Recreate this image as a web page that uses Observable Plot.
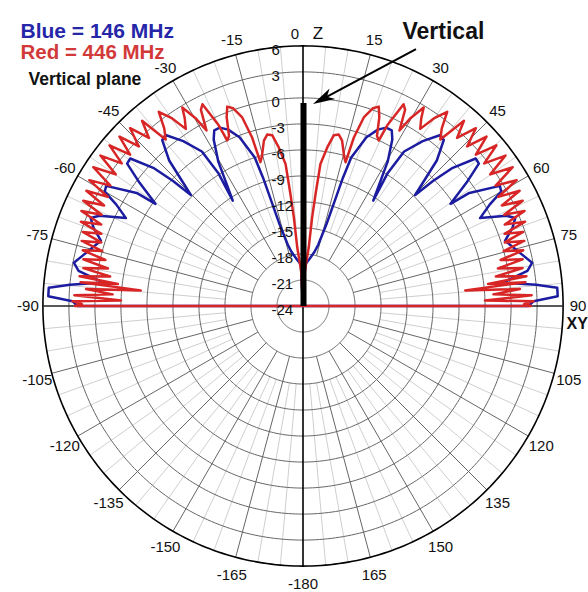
<!DOCTYPE html>
<html><head><meta charset="utf-8">
<script src="https://cdn.jsdelivr.net/npm/d3@7"></script>
<script src="https://cdn.jsdelivr.net/npm/@observablehq/plot@0.6"></script>
<style>body{margin:0;background:#fff}#chart svg{display:block}</style>
</head><body><div id="chart"></div>
<script>
// ---- data (right half, 0..90 deg from zenith; the pattern is mirrored to the left) ----
const blueAngles = [0,3,8,12,14,16,16.8,17.3,18,20.6,23,25,26.8,28.2,30.4,33.7,32.5,33.2,36.0,38.8,40.3,42.6,45.3,46.1,47.3,49.5,51.0,53.0,55.3,55.8,58.6,60.0,61.5,63.6,66.1,67.5,69.5,72.1,77.2,79.3,81.1,83.3,84.8,85.9,87.8,88.8,90,90];
const blueDb = [-24,-19.2,-18.5,-17.6,-16.7,-14.2,-11.3,-8.5,-6.0,-3.2,-1.9,-1.3,-1.3,-2.2,-4.7,-9.4,-5.8,-2.7,-0.5,1.3,1.1,-1.2,-5.8,-3.2,-0.5,2.2,2.1,-0.4,-3.3,-0.8,2.6,2.4,0.5,-1.2,1.7,2.5,1.8,0.5,2.1,2.9,2.2,-0.8,3.0,5.4,5.4,2.6,2.0,-24];
const redAngles = [0,3,5.6,5.9,6.4,7.0,8.7,10.2,11.8,13.3,15.5,16.5,16.8,17.9,19.5,20.8,22.0,23.5,24.6,25.0,26.5,27.5,28.8,29.8,31.3,32.2,33.5,35.0,36.6,38.0,39.5,41.0,42.5,44.2,45.8,47.3,48.8,50.3,51.8,53.4,54.9,56.5,58.0,59.5,60.8,62.0,63.2,64.4,65.6,66.8,68.0,69.2,70.3,71.4,72.5,73.6,74.7,75.8,76.9,78.0,79.1,80.2,81.3,82.4,83.2,83.9,84.5,85.5,86.5,87.3,88.3,88.8,89.5,90,90];
const redDb = [-24,-20,-17.2,-13.7,-11.0,-7.5,-5.5,-4.0,-3.8,-4.4,-6.2,-6.7,-3.7,-1.1,0.2,0.6,-0.5,-2.6,-3.0,-1.0,2.0,1.5,-0.9,1.0,2.8,1.6,0.5,2.5,3.9,2.0,0.9,4.3,2.3,4.6,2.4,4.8,2.5,5.0,2.6,5.1,2.4,5.0,2.2,4.6,1.8,4.3,1.7,4.1,1.5,3.8,1.1,3.4,0.7,2.8,0.4,2.6,0.0,2.2,-0.6,1.9,-1.1,1.7,-1.5,2.0,-2.5,1.8,-5.2,1.1,-2.0,2.4,-3.0,2.6,1.5,2.3,-24];

const ringDb = [-21,-18,-15,-12,-9,-6,-3,0,3];
const outerDb = 6;
const dbTickValues = [6,3,0,-3,-6,-9,-12,-15,-18,-21,-24];
const dbTickLabels = ["6","3","0","-3","-6","-9","-12","-15","-18","-21","-24"];
const angleTickValues = [15,30,45,60,75,90,105,120,135,150,165,180,-165,-150,-135,-120,-105,-90,-75,-60,-45,-30,-15];
const angleTickLabels = ["15","30","45","60","75","90","105","120","135","150","165","-180","-165","-150","-135","-120","-105","-90","-75","-60","-45","-30","-15"];
const zeroLabel = ["0"];
const zLabel = ["Z"];
const xyLabel = ["XY"];
const barDb = [-24, -0.6];
const titleBlue = ["Blue = 146 MHz"];
const titleRed = ["Red = 446 MHz"];
const titlePlane = ["Vertical plane"];
const arrowLabel = ["Vertical"];

// ---- geometry ----
const W = 588, H = 592, PX = 8.67, CX = 302.5, CY = 305.5, DBMIN = -24;
const rad = a => a * Math.PI / 180;
const P = (a, db) => { const r = Math.max(0, db - DBMIN); return [r * Math.sin(rad(a)), r * Math.cos(rad(a))]; };

function fullPattern(angles, dbs) {
  const right = angles.map((a, i) => ({a, db: dbs[i]}));
  const left = right.map(p => ({a: -p.a, db: p.db})).reverse();
  return [...left, ...right].map(p => { const [x, y] = P(p.a, p.db); return {x, y}; });
}
const blueRows = fullPattern(blueAngles, blueDb);
const redRows = fullPattern(redAngles, redDb);

const ringRows = ringDb.flatMap(db => d3.range(0, 361, 1).map(a => { const [x, y] = P(a, db); return {ring: db, x, y}; }));
const outerRows = d3.range(0, 361, 1).map(a => { const [x, y] = P(a, outerDb); return {x, y}; });
const spoke = (a, from) => { const [x1, y1] = P(a, from); const [x2, y2] = P(a, outerDb); return {x1, y1, x2, y2}; };
const darkSpokes = d3.range(-180, 180, 15).filter(a => a % 90 !== 0).map(a => spoke(a, -18));
const lightSpokes = d3.range(-180, 180, 5).filter(a => a % 15 !== 0).map(a => spoke(a, -15));
const axisRows = [
  {x1: P(0, outerDb)[0], y1: P(0, outerDb)[1], x2: P(180, outerDb)[0], y2: P(180, outerDb)[1], c: "#000"},
  {x1: P(-90, outerDb)[0], y1: P(-90, outerDb)[1], x2: P(90, outerDb)[0], y2: P(90, outerDb)[1], c: "#222"}
];
const barRows = [{x1: P(0, barDb[0])[0], y1: P(0, barDb[0])[1], x2: P(0, barDb[1])[0], y2: P(0, barDb[1])[1]}];

const labelR = outerDb + 15 / PX;
const angleRows = angleTickValues.map((a, i) => { const [x, y] = P(a, labelR); return {x, y, t: angleTickLabels[i], up: Math.cos(rad(a)) > -0.1}; });
const dbRows = dbTickValues.map((v, i) => ({x: 0, y: v - DBMIN, t: dbTickLabels[i]}));

// arrow annotation: tip just right of the bar top, tail near the label (pixel offsets)
const tipPx = [10, 1], tailPx = [113, -54];
const barTop = P(0, barDb[1]);
const tip = {x: barTop[0] + tipPx[0] / PX, y: barTop[1] - tipPx[1] / PX};
const tail = {x: barTop[0] + tailPx[0] / PX, y: barTop[1] - tailPx[1] / PX};
const dirX = tipPx[0] - tailPx[0], dirY = tipPx[1] - tailPx[1];
const dirLen = Math.hypot(dirX, dirY);
const arrowRot = Math.atan2(dirX, -dirY) * 180 / Math.PI;
const headLen = 22;
const back = {x: tip.x - (dirX / dirLen) * (headLen * 0.7) / PX, y: tip.y + (dirY / dirLen) * (headLen * 0.7) / PX};
const arrowHead = {draw(ctx) { ctx.moveTo(0, 0); ctx.lineTo(-6, headLen); ctx.lineTo(0, headLen * 0.72); ctx.lineTo(6, headLen); ctx.closePath(); }};

const FONT = "Liberation Sans, Arial, Helvetica, sans-serif";
const plot = Plot.plot({
  width: W, height: H, margin: 0,
  x: {domain: [-CX / PX, (W - CX) / PX], range: [0, W], axis: null},
  y: {domain: [-(H - CY) / PX, CY / PX], range: [H, 0], axis: null},
  style: {fontFamily: FONT, background: "#fff"},
  marks: [
    Plot.link(lightSpokes, {x1: "x1", y1: "y1", x2: "x2", y2: "y2", stroke: "#cfcfcf", strokeWidth: 1}),
    Plot.link(darkSpokes, {x1: "x1", y1: "y1", x2: "x2", y2: "y2", stroke: "#666", strokeWidth: 1}),
    Plot.line(ringRows, {x: "x", y: "y", z: "ring", stroke: "#666", strokeWidth: 1}),
    Plot.line(outerRows, {x: "x", y: "y", stroke: "#000", strokeWidth: 1.6}),
    Plot.link(axisRows, {x1: "x1", y1: "y1", x2: "x2", y2: "y2", stroke: "c", strokeWidth: 1.6}),
    Plot.line(blueRows, {x: "x", y: "y", stroke: "#1c1ca0", strokeWidth: 2.5, strokeLinejoin: "round"}),
    Plot.line(redRows, {x: "x", y: "y", stroke: "#d82626", strokeWidth: 2.5, strokeLinejoin: "round"}),
    Plot.link(barRows, {x1: "x1", y1: "y1", x2: "x2", y2: "y2", stroke: "#000", strokeWidth: 6, dx: 0.5}),
    Plot.text(angleRows.filter(d => d.up), {x: "x", y: "y", text: "t", fontSize: 15, fill: "#111", dy: 0}),
    Plot.text(angleRows.filter(d => !d.up), {x: "x", y: "y", text: "t", fontSize: 15, fill: "#111", dy: 3}),
    Plot.text(zeroLabel, {x: () => P(0, labelR)[0], y: () => P(0, labelR)[1], text: d => d, fontSize: 15, fill: "#111", dx: -8, dy: 3}),
    Plot.text(zLabel, {x: () => P(0, labelR)[0], y: () => P(0, labelR)[1], text: d => d, fontSize: 17, fill: "#111", dx: 15, dy: 3}),
    Plot.text(xyLabel, {x: () => P(90, labelR)[0], y: () => P(90, labelR)[1], text: d => d, fontSize: 16, fontWeight: "bold", fill: "#111", textAnchor: "start", dx: -11.5, dy: 18}),
    Plot.text(dbRows, {x: "x", y: "y", text: "t", fontSize: 15, fill: "#111", textAnchor: "start", dx: -31.5, dy: 4}),
    Plot.link([{x1: tail.x, y1: tail.y, x2: back.x, y2: back.y}], {x1: "x1", y1: "y1", x2: "x2", y2: "y2", stroke: "#000", strokeWidth: 2}),
    Plot.dot([tip], {x: "x", y: "y", symbol: arrowHead, fill: "#000", stroke: "none", rotate: arrowRot, r: 5}),
    Plot.text(arrowLabel, {frameAnchor: "top-left", text: d => d, fontSize: 23, fontWeight: "bold", fill: "#111", textAnchor: "start", lineAnchor: "bottom", dx: 402, dy: 38}),
    Plot.text(titleBlue, {frameAnchor: "top-left", text: d => d, fontSize: 21, fontWeight: "bold", fill: "#2626a8", textAnchor: "start", lineAnchor: "bottom", dx: 20, dy: 37}),
    Plot.text(titleRed, {frameAnchor: "top-left", text: d => d, fontSize: 20.5, fontWeight: "bold", fill: "#d23a3a", textAnchor: "start", lineAnchor: "bottom", dx: 20, dy: 58}),
    Plot.text(titlePlane, {frameAnchor: "top-left", text: d => d, fontSize: 17.5, fontWeight: "bold", fill: "#111", textAnchor: "start", lineAnchor: "bottom", dx: 28, dy: 84})
  ]
});
document.getElementById("chart").appendChild(plot);
</script>
</body></html>
